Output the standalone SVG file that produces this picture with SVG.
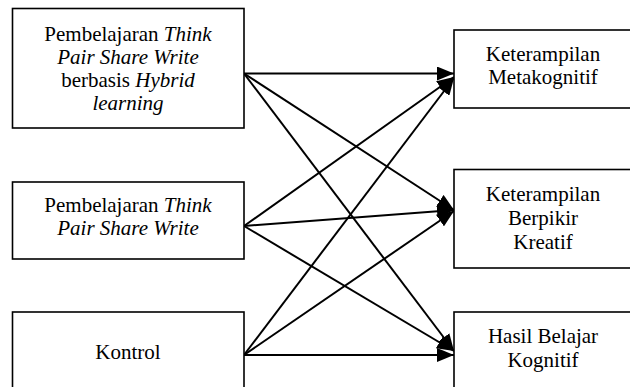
<svg xmlns="http://www.w3.org/2000/svg" width="630" height="387" viewBox="0 0 630 387">
<style>
.box{fill:#fff;stroke:#000;stroke-width:1.6}
.t{font-size:21px;fill:#000;text-anchor:middle}
.i{font-style:italic}
.c{stroke:#000;stroke-width:2;fill:none;marker-end:url(#ah)}
</style>
<defs>
<marker id="ah" markerUnits="userSpaceOnUse" markerWidth="18" markerHeight="14" refX="17" refY="7" orient="auto">
<path d="M0,0 L17,7 L0,14 Z" fill="#000"/>
</marker>
</defs>
<rect width="630" height="387" fill="#fff"/>
<g id="connectors">
<line class="c" x1="244" y1="73.5" x2="454" y2="73.5"/>
<line class="c" x1="244" y1="73.5" x2="454" y2="210"/>
<line class="c" x1="244" y1="73.5" x2="454" y2="351"/>
<line class="c" x1="244" y1="226" x2="454" y2="77"/>
<line class="c" x1="244" y1="226" x2="454" y2="210"/>
<line class="c" x1="244" y1="226" x2="454" y2="351"/>
<line class="c" x1="244" y1="355" x2="454" y2="78"/>
<line class="c" x1="244" y1="355" x2="454" y2="211"/>
<line class="c" x1="244" y1="355" x2="454" y2="355"/>
</g>
<g font-family="Liberation Serif, Tinos, DejaVu Serif, serif">
<g id="node-tpsw-hybrid">
<rect class="box" x="12.5" y="8.5" width="231.5" height="119.5"/>
<text class="t" x="128" y="41">Pembelajaran <tspan class="i">Think</tspan></text>
<text class="t i" x="128" y="64">Pair Share Write</text>
<text class="t" x="128" y="87">berbasis <tspan class="i">Hybrid</tspan></text>
<text class="t i" x="128" y="110">learning</text>
</g>
<g id="node-tpsw">
<rect class="box" x="12.5" y="182" width="231.5" height="77"/>
<text class="t" x="128" y="212">Pembelajaran <tspan class="i">Think</tspan></text>
<text class="t i" x="128" y="235">Pair Share Write</text>
</g>
<g id="node-kontrol">
<rect class="box" x="12.5" y="312" width="231.5" height="90"/>
<text class="t" x="128" y="359">Kontrol</text>
</g>
<g id="node-metakognitif">
<rect class="box" x="454" y="30" width="180" height="78"/>
<text class="t" x="543" y="61">Keterampilan</text>
<text class="t" x="543" y="84">Metakognitif</text>
</g>
<g id="node-kreatif">
<rect class="box" x="454" y="169.5" width="180" height="98.5"/>
<text class="t" x="543" y="201">Keterampilan</text>
<text class="t" x="543" y="225">Berpikir</text>
<text class="t" x="543" y="249">Kreatif</text>
</g>
<g id="node-kognitif">
<rect class="box" x="454" y="312" width="180" height="90"/>
<text class="t" x="543" y="343">Hasil Belajar</text>
<text class="t" x="543" y="367">Kognitif</text>
</g>
</g>
</svg>
